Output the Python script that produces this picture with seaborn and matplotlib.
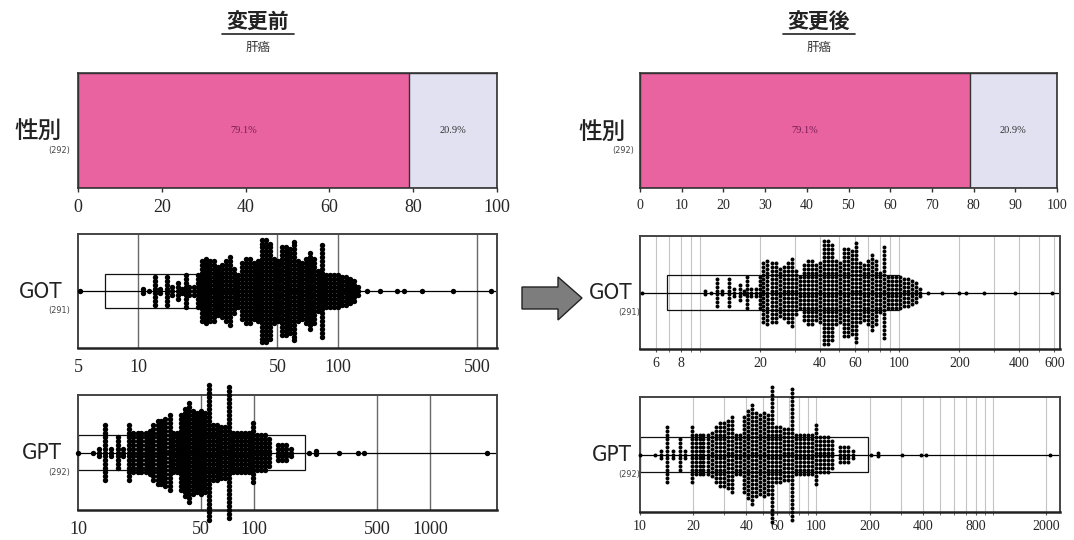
import matplotlib
matplotlib.use("Agg")
import matplotlib.pyplot as plt
import seaborn as sns
import pandas as pd
from matplotlib.patches import Rectangle, Polygon
from matplotlib.lines import Line2D
from matplotlib.ticker import NullFormatter, NullLocator

sns.set_style("white")
plt.rcParams["font.family"] = ["Noto Sans CJK JP", "DejaVu Sans"]

# ---- data ----
sex_pct = [79.1, 20.9]
sex_n = 292

got_n = 291
got_vals = [5.1, 10.6, 11.3, 12.1, 12.9, 13.9, 14.8, 15.8, 16.55, 17.3, 18.1, 19.0, 19.9,
            20.8, 21.8, 22.9, 24.0, 25.1, 26.3, 27.5, 28.8, 30.2, 31.6, 33.1, 34.7, 36.3,
            38.1, 39.9, 41.8, 43.7, 45.8, 48.0, 50.3, 52.6, 55.1, 57.8, 60.5, 63.4, 66.4,
            69.5, 72.8, 76.3, 79.9, 83.7, 87.7, 91.8, 96.2, 100.8, 105.6, 110.6, 115.8,
            121.3, 127.1, 140, 163, 199, 216, 265, 380, 585]
got_counts = [1, 2, 1, 8, 2, 8, 3, 5, 2, 9, 3, 3, 9,
              16, 17, 16, 16, 13, 14, 16, 18, 12, 9, 15, 17, 17,
              15, 16, 27, 27, 25, 17, 16, 23, 23, 22, 26, 16, 15,
              17, 20, 17, 11, 24, 9, 9, 9, 9, 8, 8, 7,
              6, 3, 1, 1, 1, 1, 1, 1, 1]
got_box = [6.8, 100]

gpt_n = 292
gpt_vals = [10, 12.1, 13.1, 14.3, 15.4, 16.8, 17.9, 19.6, 20.65, 21.8, 22.9, 24.2, 25.5,
            26.8, 28.3, 29.8, 31.4, 33.1, 34.8, 36.7, 38.7, 40.7, 42.9, 45.2, 47.6, 50.2,
            52.9, 55.7, 58.7, 61.9, 65.2, 68.7, 72.4, 76.3, 80.4, 84.7, 89.2, 94.0, 99.1,
            104.4, 110, 115.9, 122.1, 136, 143.3, 151, 162, 205, 224, 305, 390, 420, 2100]
gpt_counts = [1, 1, 3, 15, 3, 9, 3, 15, 11, 11, 11, 11, 12,
              15, 17, 17, 18, 20, 11, 11, 20, 23, 26, 22, 21, 22,
              21, 35, 15, 15, 14, 14, 34, 11, 11, 11, 11, 11, 16,
              10, 10, 10, 8, 5, 5, 5, 3, 1, 2, 1, 1, 1, 1]
gpt_box = [10, 195]

PINK = "#e8639f"
LAVENDER = "#e2e1f1"
W, H = 1074, 540
NARROW = dict(family=["DejaVu Sans"], fontstretch="condensed")


def rect(x0, y0, x1, y1):
    return [x0 / W, 1 - y1 / H, (x1 - x0) / W, (y1 - y0) / H]


def stack(vals, counts):
    xs, ys = [], []
    for v, n in zip(vals, counts):
        for k in range(n):
            xs.append(v)
            ys.append(k - (n - 1) / 2)
    return pd.DataFrame({"値": xs, "位置": ys})


def label(x, y, name, n, font, size):
    fig.text(x / W, 1 - y / H, name, ha="right", va="center", fontsize=size,
             color="#222222", **font)
    fig.text((x + 8) / W, 1 - (y + 19) / H, f"({n})", ha="right", va="center",
             fontsize=6.5, color="#444444", **NARROW)


def bar_panel(ax, ticks, fsize):
    sns.barplot(x=[100], y=["性別"], color=LAVENDER, saturation=1, width=1,
                edgecolor="#333333", linewidth=1, ax=ax)
    sns.barplot(x=[sex_pct[0]], y=["性別"], color=PINK, saturation=1, width=1,
                edgecolor="#333333", linewidth=1, ax=ax)
    ax.set_xlim(0, 100)
    ax.set_ylim(-0.5, 0.5)
    ax.set_yticks([])
    ax.set_xlabel("")
    ax.set_ylabel("")
    ax.set_xticks(ticks)
    ax.set_xticklabels([str(t) for t in ticks])
    ax.tick_params(axis="x", bottom=True, length=3, width=1, color="#333333",
                   labelsize=fsize, labelfontfamily="Liberation Serif", pad=5)
    ax.text(sex_pct[0] / 2, 0, f"{sex_pct[0]}%", ha="center", va="center",
            fontsize=7.5, family=["Liberation Serif"], color="#7a1d55")
    ax.text(sex_pct[0] + sex_pct[1] / 2, 0, f"{sex_pct[1]}%", ha="center", va="center",
            fontsize=7.5, family=["Liberation Serif"], color="#333333")
    for s in ax.spines.values():
        s.set_visible(True)
        s.set_color("#333333")
        s.set_linewidth(1.2)


def dot_panel(ax, vals, counts, box, xlim, ticks, grid, gcolor, glw, size, fsize, minor):
    ax.set_xscale("log")
    ax.set_xlim(xlim)
    ax.set_ylim(-14.4, 14.4)
    for g in grid:
        ax.axvline(g, color=gcolor, lw=glw, zorder=0)
    ax.axhline(0, color="black", lw=0.9, zorder=1)
    ax.add_patch(Rectangle((box[0], -4.4), box[1] - box[0], 8.8, fill=False,
                           ec="#111111", lw=0.9, zorder=2))
    sns.scatterplot(data=stack(vals, counts), x="値", y="位置", ax=ax, s=size,
                    color="black", linewidth=0, clip_on=False, zorder=3, legend=False)
    ax.set_xticks(ticks)
    ax.set_xticklabels([str(t) for t in ticks])
    if minor:
        ax.set_xticks(grid, minor=True)
        ax.xaxis.set_minor_formatter(NullFormatter())
        ax.tick_params(axis="x", which="minor", bottom=True, length=2, color="#555555")
    else:
        ax.xaxis.set_minor_locator(NullLocator())
    ax.tick_params(axis="x", which="major", bottom=minor, length=2, color="#555555",
                   labelsize=fsize, labelfontfamily="Liberation Serif",
                   pad=4 if minor else 6)
    ax.set_yticks([])
    ax.set_xlabel("")
    ax.set_ylabel("")
    for s in ax.spines.values():
        s.set_visible(True)
        s.set_color("#444444")
        s.set_linewidth(1.4)
    ax.spines["bottom"].set_linewidth(1.8)
    ax.spines["bottom"].set_color("#222222")


fig = plt.figure(figsize=(10.74, 5.40), dpi=100)

# ---- before ----
ax = fig.add_axes(rect(78, 73, 497, 188))
bar_panel(ax, [0, 20, 40, 60, 80, 100], 13)
ax = fig.add_axes(rect(78, 234, 497, 348))
dot_panel(ax, got_vals, got_counts, got_box, (5, 630), [5, 10, 50, 100, 500],
          [10, 50, 100, 500], "#6a6a6a", 1.0, 15, 13, False)
ax = fig.add_axes(rect(78, 395, 497, 510))
dot_panel(ax, gpt_vals, gpt_counts, gpt_box, (10, 2400), [10, 50, 100, 500, 1000],
          [50, 100, 500, 1000], "#6a6a6a", 1.0, 15, 13, False)

# ---- after ----
ax = fig.add_axes(rect(640, 73, 1057, 188))
bar_panel(ax, list(range(0, 101, 10)), 10)
ax = fig.add_axes(rect(640, 236, 1060, 349))
got_grid = [6, 7, 8, 9, 10, 20, 30, 40, 50, 60, 70, 80, 90, 100, 200, 300, 400, 500, 600]
dot_panel(ax, got_vals, got_counts, got_box, (5, 640), [6, 8, 20, 40, 60, 100, 200, 400, 600],
          got_grid, "#c4c4c4", 0.8, 8, 10, True)
ax = fig.add_axes(rect(640, 397, 1060, 512))
gpt_grid = [20, 30, 40, 50, 60, 70, 80, 90, 100, 200, 300, 400, 500, 600, 700, 800, 900,
            1000, 2000]
dot_panel(ax, gpt_vals, gpt_counts, gpt_box, (10, 2400),
          [10, 20, 40, 60, 100, 200, 400, 800, 2000], gpt_grid, "#c4c4c4", 0.8, 8, 10, True)

# ---- labels ----
CJK = dict(family=["Noto Sans CJK JP"], fontweight="medium")
label(62, 131, "性別", sex_n, CJK, 17)
label(62, 292, "GOT", got_n, NARROW, 16)
label(62, 453, "GPT", gpt_n, NARROW, 16)
label(626, 132, "性別", sex_n, CJK, 17)
label(632, 293, "GOT", got_n, NARROW, 16)
label(632, 455, "GPT", gpt_n, NARROW, 16)

# ---- titles ----
for cx, title in [(258, "変更前"), (819, "変更後")]:
    fig.text(cx / W, 1 - 22 / H, title, ha="center", va="center", fontsize=15,
             fontweight="bold", color="#222222")
    fig.add_artist(Line2D([(cx - 36) / W, (cx + 36) / W], [1 - 34 / H, 1 - 34 / H],
                          color="#222222", lw=1.2))
    fig.text(cx / W, 1 - 47 / H, "肝癌", ha="center", va="center", fontsize=9,
             color="#333333")

# ---- arrow ----
arrow_px = [(522, 287), (558, 287), (558, 277), (582, 298), (558, 320), (558, 309), (522, 309)]
fig.add_artist(Polygon([(x / W, 1 - y / H) for x, y in arrow_px], closed=True,
                       transform=fig.transFigure, fc="#7d7d7d", ec="#222222", lw=1))

fig.savefig("out.png", dpi=100)
